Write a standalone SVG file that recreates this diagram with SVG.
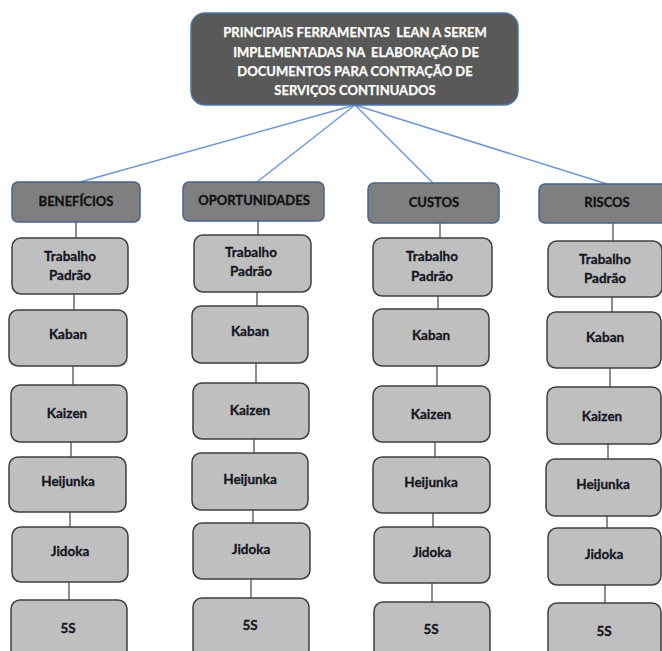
<svg xmlns="http://www.w3.org/2000/svg" width="662" height="651" viewBox="0 0 662 651">
  <style>
    .root { fill: #595959; stroke: #4f74a3; stroke-width: 1.5; }
    .cat { fill: #7f7f7f; stroke: #48648a; stroke-width: 1.5; }
    .item { fill: #bfbfbf; stroke: #3f3f3f; stroke-width: 1.5; }
    .rootText { font-family: Lato, "Liberation Sans", sans-serif; font-weight: bold; font-size: 13px; fill: #ffffff; stroke: #ffffff; stroke-width: 0.25; text-anchor: middle; white-space: pre; }
    .catText { font-family: Lato, "Liberation Sans", sans-serif; font-weight: bold; font-size: 13px; fill: #111111; stroke: #111111; stroke-width: 0.3; text-anchor: middle; }
    .itemText { font-family: Lato, "Liberation Sans", sans-serif; font-weight: bold; font-size: 13.5px; fill: #161622; stroke: #161622; stroke-width: 0.3; text-anchor: middle; }
    .blue { stroke: #6b98d4; stroke-width: 1.5; fill: none; }
    .gray { stroke: #404040; stroke-width: 1.2; fill: none; }
  </style>
  <rect width="662" height="651" fill="#ffffff"/>

  <!-- connectors -->
  <g id="connectors">
    <line class="blue" x1="355" y1="105" x2="80" y2="182"/>
    <line class="blue" x1="355" y1="105" x2="257" y2="182"/>
    <line class="blue" x1="355" y1="105" x2="433" y2="183"/>
    <line class="blue" x1="355" y1="105" x2="607" y2="184"/>

    <!-- column 1 -->
    <line class="gray" x1="76" y1="222" x2="76" y2="238"/>
    <line class="gray" x1="74" y1="294" x2="74" y2="310"/>
    <line class="gray" x1="73" y1="366" x2="73" y2="385"/>
    <line class="gray" x1="71" y1="442" x2="71" y2="457"/>
    <line class="gray" x1="70" y1="512" x2="70" y2="527"/>
    <line class="gray" x1="69" y1="582" x2="69" y2="600"/>
    <!-- column 2 -->
    <line class="gray" x1="258" y1="221" x2="258" y2="235"/>
    <line class="gray" x1="257" y1="292" x2="257" y2="306"/>
    <line class="gray" x1="256" y1="363" x2="256" y2="383"/>
    <line class="gray" x1="254" y1="439" x2="254" y2="453"/>
    <line class="gray" x1="253" y1="510" x2="253" y2="523"/>
    <line class="gray" x1="251" y1="579" x2="251" y2="598"/>
    <!-- column 3 -->
    <line class="gray" x1="440" y1="223" x2="440" y2="238"/>
    <line class="gray" x1="438" y1="296" x2="438" y2="309"/>
    <line class="gray" x1="437" y1="366" x2="437" y2="386"/>
    <line class="gray" x1="435" y1="442" x2="435" y2="457"/>
    <line class="gray" x1="433" y1="513" x2="433" y2="527"/>
    <line class="gray" x1="432" y1="583" x2="432" y2="602"/>
    <!-- column 4 -->
    <line class="gray" x1="613" y1="223" x2="613" y2="241"/>
    <line class="gray" x1="612" y1="297" x2="612" y2="312"/>
    <line class="gray" x1="610" y1="368" x2="610" y2="387"/>
    <line class="gray" x1="608" y1="444" x2="608" y2="459"/>
    <line class="gray" x1="607" y1="516" x2="607" y2="528"/>
    <line class="gray" x1="605" y1="585" x2="605" y2="603"/>
  </g>

  <!-- root -->
  <g id="root">
    <rect class="root" x="191" y="13" width="327" height="92" rx="14"/>
    <text class="rootText" x="355" y="37">PRINCIPAIS FERRAMENTAS  LEAN A SEREM</text>
    <text class="rootText" x="356" y="56.5">IMPLEMENTADAS NA  ELABORAÇÃO DE</text>
    <text class="rootText" x="355" y="76">DOCUMENTOS PARA CONTRAÇÃO DE</text>
    <text class="rootText" x="355" y="94.5">SERVIÇOS CONTINUADOS</text>
  </g>

  <!-- categories -->
  <g id="cat-beneficios">
    <rect class="cat" x="12" y="182" width="128" height="40" rx="6"/>
    <text class="catText" x="76" y="206">BENEFÍCIOS</text>
  </g>
  <g id="cat-oportunidades">
    <rect class="cat" x="183" y="182" width="141" height="39" rx="6"/>
    <text class="catText" x="254" y="205">OPORTUNIDADES</text>
  </g>
  <g id="cat-custos">
    <rect class="cat" x="368" y="183" width="131" height="40" rx="6"/>
    <text class="catText" x="434" y="207">CUSTOS</text>
  </g>
  <g id="cat-riscos">
    <rect class="cat" x="539" y="184" width="130" height="39" rx="6"/>
    <text class="catText" x="607" y="207">RISCOS</text>
  </g>

  <!-- column 1 items -->
  <g id="c1-trabalho">
    <rect class="item" x="12" y="238" width="116" height="56" rx="9"/>
    <text class="itemText" x="70" y="261">Trabalho</text>
    <text class="itemText" x="70" y="280">Padrão</text>
  </g>
  <g id="c1-kaban">
    <rect class="item" x="9" y="310" width="118" height="56" rx="9"/>
    <text class="itemText" x="68" y="339">Kaban</text>
  </g>
  <g id="c1-kaizen">
    <rect class="item" x="11" y="385" width="116" height="57" rx="9"/>
    <text class="itemText" x="67" y="418">Kaizen</text>
  </g>
  <g id="c1-heijunka">
    <rect class="item" x="9" y="457" width="117" height="55" rx="9"/>
    <text class="itemText" x="68" y="486">Heijunka</text>
  </g>
  <g id="c1-jidoka">
    <rect class="item" x="12" y="527" width="116" height="55" rx="9"/>
    <text class="itemText" x="70" y="556">Jidoka</text>
  </g>
  <g id="c1-5s">
    <rect class="item" x="11" y="600" width="116" height="60" rx="9"/>
    <text class="itemText" x="68" y="633">5S</text>
  </g>

  <!-- column 2 items -->
  <g id="c2-trabalho">
    <rect class="item" x="194" y="235" width="117" height="57" rx="9"/>
    <text class="itemText" x="251" y="257">Trabalho</text>
    <text class="itemText" x="251" y="276">Padrão</text>
  </g>
  <g id="c2-kaban">
    <rect class="item" x="192" y="306" width="116" height="57" rx="9"/>
    <text class="itemText" x="250" y="336">Kaban</text>
  </g>
  <g id="c2-kaizen">
    <rect class="item" x="193" y="383" width="116" height="56" rx="9"/>
    <text class="itemText" x="250" y="415">Kaizen</text>
  </g>
  <g id="c2-heijunka">
    <rect class="item" x="192" y="453" width="116" height="57" rx="9"/>
    <text class="itemText" x="250" y="484">Heijunka</text>
  </g>
  <g id="c2-jidoka">
    <rect class="item" x="193" y="523" width="117" height="56" rx="9"/>
    <text class="itemText" x="251" y="554">Jidoka</text>
  </g>
  <g id="c2-5s">
    <rect class="item" x="193" y="598" width="116" height="60" rx="9"/>
    <text class="itemText" x="250" y="630">5S</text>
  </g>

  <!-- column 3 items -->
  <g id="c3-trabalho">
    <rect class="item" x="373" y="238" width="119" height="58" rx="9"/>
    <text class="itemText" x="432" y="261">Trabalho</text>
    <text class="itemText" x="432" y="281">Padrão</text>
  </g>
  <g id="c3-kaban">
    <rect class="item" x="373" y="309" width="116" height="57" rx="9"/>
    <text class="itemText" x="431" y="340">Kaban</text>
  </g>
  <g id="c3-kaizen">
    <rect class="item" x="373" y="386" width="117" height="56" rx="9"/>
    <text class="itemText" x="431" y="419">Kaizen</text>
  </g>
  <g id="c3-heijunka">
    <rect class="item" x="373" y="457" width="117" height="56" rx="9"/>
    <text class="itemText" x="431" y="487">Heijunka</text>
  </g>
  <g id="c3-jidoka">
    <rect class="item" x="374" y="527" width="116" height="56" rx="9"/>
    <text class="itemText" x="432" y="557">Jidoka</text>
  </g>
  <g id="c3-5s">
    <rect class="item" x="374" y="602" width="116" height="60" rx="9"/>
    <text class="itemText" x="431" y="634">5S</text>
  </g>

  <!-- column 4 items -->
  <g id="c4-trabalho">
    <rect class="item" x="548" y="241" width="114" height="56" rx="9"/>
    <text class="itemText" x="605" y="264">Trabalho</text>
    <text class="itemText" x="605" y="283">Padrão</text>
  </g>
  <g id="c4-kaban">
    <rect class="item" x="547" y="312" width="114" height="56" rx="9"/>
    <text class="itemText" x="605" y="342">Kaban</text>
  </g>
  <g id="c4-kaizen">
    <rect class="item" x="547" y="387" width="114" height="57" rx="9"/>
    <text class="itemText" x="602" y="421">Kaizen</text>
  </g>
  <g id="c4-heijunka">
    <rect class="item" x="546" y="459" width="115" height="57" rx="9"/>
    <text class="itemText" x="603" y="489">Heijunka</text>
  </g>
  <g id="c4-jidoka">
    <rect class="item" x="548" y="528" width="113" height="57" rx="9"/>
    <text class="itemText" x="604" y="559">Jidoka</text>
  </g>
  <g id="c4-5s">
    <rect class="item" x="548" y="603" width="113" height="60" rx="9"/>
    <text class="itemText" x="604" y="636">5S</text>
  </g>
</svg>
